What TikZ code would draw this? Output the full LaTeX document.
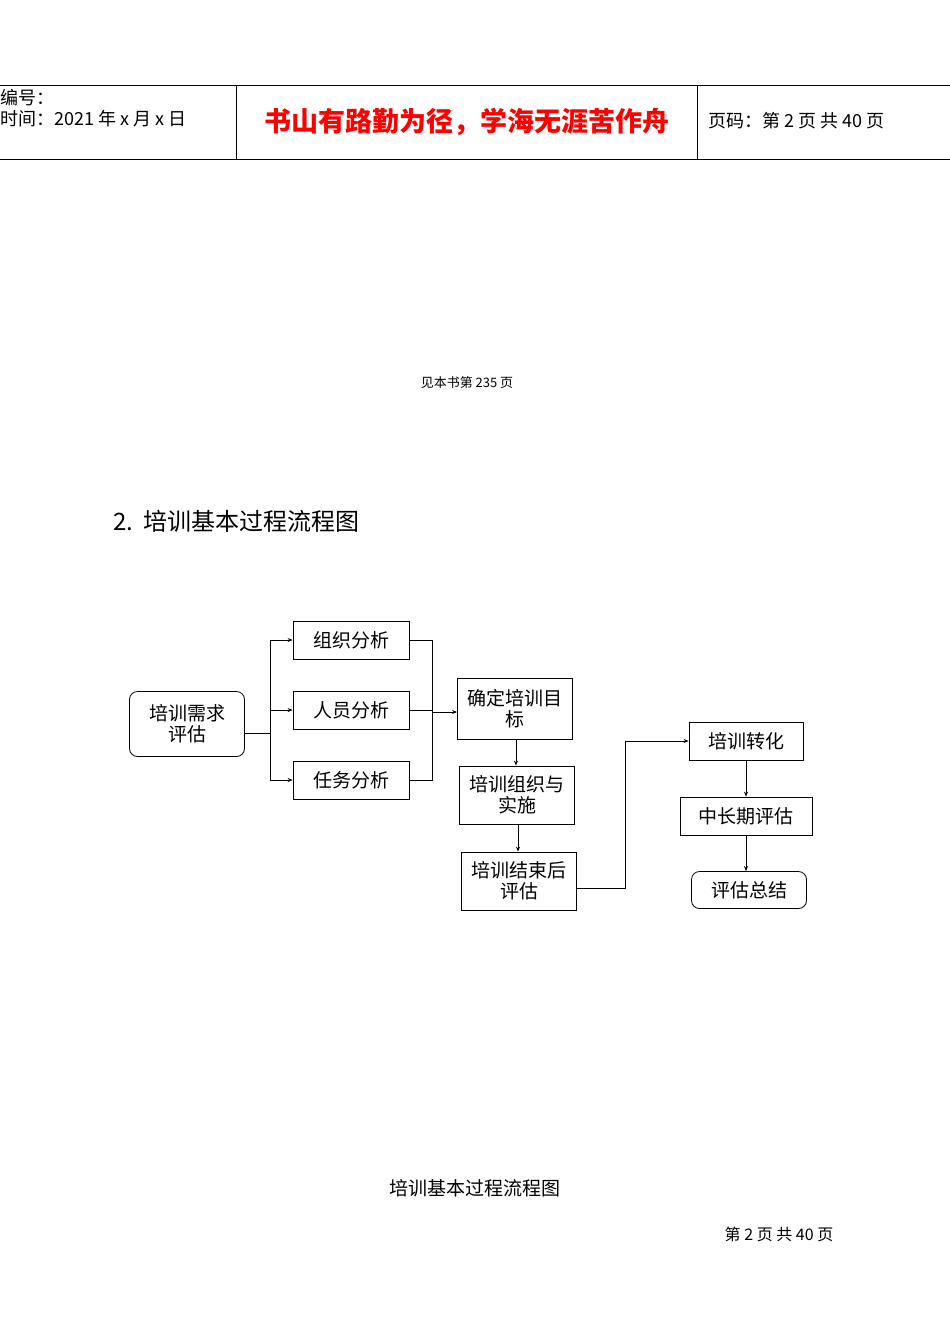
\documentclass[tikz,border=0pt]{standalone}
\usepackage{fontspec}
\setmainfont{Liberation Serif}
\newfontfamily\cjk{Noto Sans CJK SC}
\usetikzlibrary{arrows.meta}
\begin{document}
\begin{tikzpicture}[x=1pt,y=-1pt,
  box/.style={draw,line width=0.8pt,minimum height=38pt,inner sep=1pt,align=center,font=\cjk\fontsize{19}{21}\selectfont},
  rbox/.style={box,rounded corners=8pt},
  conn/.style={line width=0.8pt},
  arr/.style={conn,-{Stealth[length=5pt,width=4pt]}}]
\useasboundingbox (0,0) rectangle (950,1342);
% header
\draw[line width=0.8pt] (0,85) -- (950,85) (0,159) -- (950,159) (236,85) -- (236,159) (697,85) -- (697,159);
\node[anchor=west,inner sep=0,font=\cjk\fontsize{18}{20}\selectfont] (h1) at (0,98) {编号：};
\node[anchor=west,inner sep=0,font=\cjk\fontsize{18}{20}\selectfont] (h2) at (0,119) {时间：2021 年 x 月 x 日};
\node[inner sep=0,text=red,font=\cjk\bfseries\fontsize{27}{30}\selectfont] (h3) at (467,122) {书山有路勤为径，学海无涯苦作舟};
\node[anchor=west,inner sep=0,font=\cjk\fontsize{18}{20}\selectfont] (h4) at (708,121) {页码：第 2 页 共 40 页};
\node[inner sep=0,font=\cjk\fontsize{13}{15}\selectfont] (ref) at (467,383) {见本书第 235 页};
\node[anchor=west,inner sep=0,font=\cjk\fontsize{24}{28}\selectfont] (title) at (113,521) {2.\ \ 培训基本过程流程图};
% boxes
\node[rbox,minimum width=115pt,minimum height=65pt] (need) at (187,724) {培训需求\\评估};
\node[box,minimum width=116pt] (org) at (351,640) {组织分析};
\node[box,minimum width=116pt] (per) at (351,710) {人员分析};
\node[box,minimum width=116pt] (task) at (351,780) {任务分析};
\node[box,minimum width=115pt,minimum height=61pt] (goal) at (515,709) {确定培训目\\标};
\node[box,minimum width=115pt,minimum height=58pt] (impl) at (517,795) {培训组织与\\实施};
\node[box,minimum width=115pt,minimum height=58pt] (post) at (519,881) {培训结束后\\评估};
\node[box,minimum width=114pt] (trans) at (746,741) {培训转化};
\node[box,minimum width=132pt] (mid) at (746,816) {中长期评估};
\node[rbox,minimum width=115pt,minimum height=37pt] (sum) at (749,890) {评估总结};
% connectors
\coordinate (b) at (270,733);
\draw[conn] (need.east |- b) -- (b);
\draw[arr] (b) |- (org.west);
\draw[arr] (b) |- (per.west);
\draw[arr] (b) |- (task.west);
\coordinate (m) at (432,712);
\draw[conn] (org.east) -| (m);
\draw[conn] (task.east) -| (m);
\draw[conn] (per.east) -- (per.east -| m);
\draw[arr] (m) -- (goal.west |- m);
\draw[arr] (goal.south -| 516,0) -- (impl.north -| 516,0);
\draw[arr] (impl.south -| 518,0) -- (post.north -| 518,0);
\coordinate (v) at (625,888);
\draw[arr] (post.east |- v) -- (v) |- (trans.west);
\draw[arr] (trans.south) -- (mid.north);
\draw[arr] (mid.south) -- (mid.south |- sum.north);
% captions
\node[inner sep=0,font=\cjk\fontsize{19}{21}\selectfont] (cap) at (475,1188) {培训基本过程流程图};
\node[inner sep=0,font=\cjk\fontsize{16}{18}\selectfont] (pg) at (779,1234) {第 2 页 共 40 页};
\end{tikzpicture}
\end{document}
